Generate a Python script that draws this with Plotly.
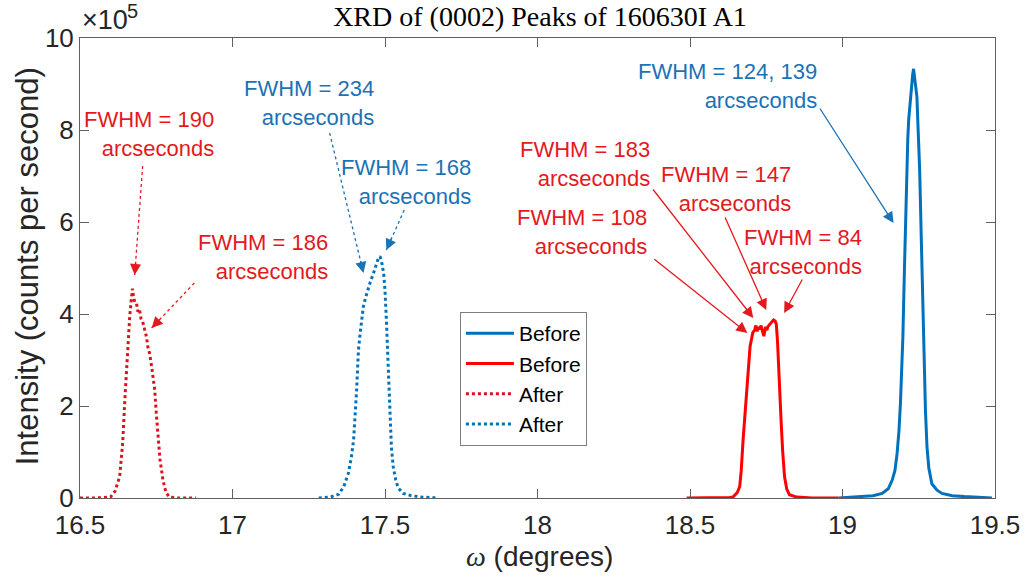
import plotly.graph_objects as go
import math

# ---------------- data (omega in degrees, intensity in counts per second) ----------------
after_red_x = [16.50, 16.55, 16.60, 16.615, 16.63, 16.64, 16.647, 16.655, 16.663, 16.668, 16.672,
               16.676, 16.680, 16.685, 16.690, 16.695, 16.700, 16.705, 16.712, 16.718, 16.722,
               16.728, 16.735, 16.740, 16.745, 16.750, 16.755, 16.762, 16.772, 16.782, 16.793,
               16.82, 16.85, 16.88]
after_red_y = [0, 0, 2000, 15000, 46000, 120000, 213000, 310000, 394000, 430000, 455000,
               435000, 425000, 424000, 405000, 410000, 390000, 385000, 365000, 350000, 330000,
               315000, 285000, 260000, 235000, 185000, 133000, 85000, 39000, 12000, 2000,
               0, 0, 0]

after_blue_x = [17.283, 17.32, 17.348, 17.365, 17.380, 17.390, 17.397, 17.403, 17.407, 17.410,
                17.413, 17.418, 17.422, 17.429, 17.436, 17.443, 17.452, 17.462, 17.470, 17.478,
                17.484, 17.491, 17.496, 17.500, 17.505, 17.508, 17.511, 17.516, 17.521, 17.527,
                17.535, 17.543, 17.56, 17.586, 17.62, 17.674]
after_blue_y = [0, 2000, 8000, 25000, 54000, 90000, 126000, 180000, 235000, 280000,
                322000, 355000, 380000, 416000, 435000, 452000, 470000, 488000, 505000, 521000,
                525000, 507000, 485000, 452000, 380000, 325000, 272000, 163000, 110000, 68000,
                40000, 22000, 10000, 5000, 2000, 0]

before_red_x = [18.489, 18.55, 18.60, 18.63, 18.641, 18.655, 18.663, 18.668, 18.674, 18.680,
                18.685, 18.690, 18.693, 18.697, 18.701, 18.706, 18.712, 18.716, 18.720, 18.724,
                18.728, 18.733, 18.738, 18.742, 18.744, 18.748, 18.752, 18.755, 18.762, 18.768,
                18.774, 18.779, 18.783, 18.787, 18.791, 18.795, 18.799, 18.804, 18.810, 18.817,
                18.826, 18.85, 18.90, 18.95, 18.987]
before_red_y = [0, 0, 0, 1000, 2000, 12000, 25000, 60000, 126000, 180000,
                235000, 280000, 307000, 330000, 343000, 360000, 365000, 375000, 362000, 372000,
                367000, 375000, 362000, 352000, 358000, 372000, 365000, 372000, 378000, 382000,
                387000, 385000, 378000, 340000, 271000, 210000, 163000, 100000, 46000, 20000,
                7000, 2000, 0, 0, 0]

before_blue_x = [18.987, 19.02, 19.054, 19.10, 19.130, 19.150, 19.163, 19.172, 19.179, 19.185,
                 19.190, 19.194, 19.198, 19.203, 19.207, 19.210, 19.214, 19.217, 19.222, 19.226,
                 19.230, 19.233, 19.237, 19.241, 19.244, 19.248, 19.253, 19.257, 19.261, 19.265,
                 19.268, 19.272, 19.277, 19.283, 19.293, 19.31, 19.326, 19.36, 19.40, 19.45, 19.49]
before_blue_y = [0, 1000, 2000, 5000, 10000, 20000, 39000, 60000, 97000, 145000,
                 206000, 270000, 351000, 496000, 610000, 713000, 780000, 822000, 865000, 894000,
                 920000, 933000, 910000, 890000, 872000, 800000, 713000, 600000, 496000, 380000,
                 278000, 190000, 111000, 65000, 31000, 17000, 10000, 5000, 3000, 1000, 0]

y_tick_vals = [0, 200000, 400000, 600000, 800000, 1000000]
y_tick_text = ["0", "2", "4", "6", "8", "10"]
x_tick_vals = [16.5, 17, 17.5, 18, 18.5, 19, 19.5]
x_tick_text = ["16.5", "17", "17.5", "18", "18.5", "19", "19.5"]

labels_fwhm = ["FWHM = 190", "FWHM = 186", "FWHM = 234", "FWHM = 168", "FWHM = 183",
               "FWHM = 108", "FWHM = 147", "FWHM = 84", "FWHM = 124, 139"]

# ---------------- styling ----------------
BLUE = "#0072BD"
RED = "#FF0000"
RED_DOT = "#E0101E"
RED_TXT = "#E3191E"
BLUE_TXT = "#1B72B5"
SANS = "Liberation Sans, Arial, sans-serif"
SERIF = "Liberation Serif, Times New Roman, serif"

W, H = 1032, 577
L, R, T, B = 80, 32, 38, 79
PW, PH = W - L - R, H - T - B
X0, X1 = 16.5, 19.5
Y0, Y1 = 0, 1000000


def px2x(px):
    return X0 + (px - L) * (X1 - X0) / PW


def py2y(py):
    return Y0 + (T + PH - py) * (Y1 - Y0) / PH


fig = go.Figure()
fig.add_trace(go.Scatter(x=before_blue_x, y=before_blue_y, mode="lines", name="Before",
                         line=dict(color=BLUE, width=3)))
fig.add_trace(go.Scatter(x=before_red_x, y=before_red_y, mode="lines", name="Before",
                         line=dict(color=RED, width=3)))
fig.add_trace(go.Scatter(x=after_red_x, y=after_red_y, mode="lines", name="After",
                         line=dict(color=RED_DOT, width=3, dash="dot")))
fig.add_trace(go.Scatter(x=after_blue_x, y=after_blue_y, mode="lines", name="After",
                         line=dict(color=BLUE, width=3, dash="dot")))

# text labels: (right edge px, first line centre py, colour)
text_pos = [(217, 120, RED_TXT), (331, 243, RED_TXT), (378, 89, BLUE_TXT), (475, 168, BLUE_TXT),
            (655, 150, RED_TXT), (652, 218, RED_TXT), (797, 175, RED_TXT), (868, 238, RED_TXT),
            (823, 72, BLUE_TXT)]
# arrows: tail px, head px, colour, dotted
arrows = [((143, 166), (135, 275), RED_TXT, True),
          ((195, 283), (152, 328), RED_TXT, True),
          ((331, 133), (365, 273), BLUE_TXT, True),
          ((406, 210), (388, 250), BLUE_TXT, True),
          ((655, 188), (757, 318), RED_TXT, False),
          ((656, 258), (751, 333), RED_TXT, False),
          ((728, 216), (770, 310), RED_TXT, False),
          ((807, 278), (788, 313), RED_TXT, False),
          ((823, 107), (898, 223), BLUE_TXT, False)]

annotations = []
shapes = []
for lab, (rx, cy, col) in zip(labels_fwhm, text_pos):
    annotations.append(dict(x=px2x(rx), y=py2y(cy + 14), xref="x", yref="y", xanchor="right",
                            yanchor="middle", align="right", showarrow=False,
                            text=lab + "<br>arcseconds", font=dict(family=SANS, size=22, color=col)))

for (tx, ty), (hx, hy), col, dotted in arrows:
    if dotted:
        shapes.append(dict(type="line", xref="x", yref="y", x0=px2x(tx), y0=py2y(ty),
                           x1=px2x(hx), y1=py2y(hy), line=dict(color=col, width=1.3, dash="dot")))
        d = math.hypot(tx - hx, ty - hy)
        annotations.append(dict(x=px2x(hx), y=py2y(hy), xref="x", yref="y", text="",
                                showarrow=True, ax=(tx - hx) * 14 / d, ay=(ty - hy) * 14 / d,
                                arrowhead=2, arrowsize=1.7, arrowwidth=1.3, arrowcolor=col,
                                standoff=0))
    else:
        annotations.append(dict(x=px2x(hx), y=py2y(hy), xref="x", yref="y", text="",
                                showarrow=True, axref="x", ayref="y", ax=px2x(tx), ay=py2y(ty),
                                arrowhead=2, arrowsize=1.7, arrowwidth=1.3, arrowcolor=col,
                                standoff=0))

# exponent label (x10^5) drawn as two pieces
annotations.append(dict(x=(80 - L) / PW, y=(T + PH - 20) / PH, xref="paper", yref="paper",
                        xanchor="left", yanchor="middle", showarrow=False, text="×10",
                        font=dict(family=SANS, size=27, color="#262626")))
annotations.append(dict(x=(125 - L) / PW, y=(T + PH - 11) / PH, xref="paper", yref="paper",
                        xanchor="left", yanchor="middle", showarrow=False, text="5",
                        font=dict(family=SANS, size=20, color="#262626")))
# axis titles
annotations.append(dict(x=-L / PW + 27 / PW, y=0.5 - (266 - (T + PH / 2)) / PH, xref="paper",
                        yref="paper", xanchor="center", yanchor="middle", textangle=-90,
                        showarrow=False, text="Intensity (counts per second)",
                        font=dict(family=SANS, size=31, color="#262626")))
annotations.append(dict(x=(542 - L) / PW, y=-(556 - T - PH) / PH, xref="paper", yref="paper",
                        xanchor="center", yanchor="middle", showarrow=False,
                        text="<span style='font-family:Liberation Serif'><i>ω</i></span> (degrees)",
                        font=dict(family=SANS, size=28, color="#262626")))

fig.update_layout(
    width=W, height=H,
    margin=dict(l=L, r=R, t=T, b=B, pad=0),
    paper_bgcolor="white", plot_bgcolor="white",
    title=dict(text="XRD of (0002) Peaks of 160630I A1", x=(540) / W, xanchor="center",
               y=1 - 16 / H, yanchor="middle",
               font=dict(family=SERIF, size=28, color="#000000")),
    showlegend=True,
    legend=dict(x=(462 - L) / PW, y=(T + PH - 312) / PH, xanchor="left", yanchor="top",
                bgcolor="white", bordercolor="#7F7F7F", borderwidth=1,
                font=dict(family=SANS, size=21, color="#000000"), itemwidth=48,
                traceorder="normal"),
    annotations=annotations,
    shapes=shapes,
    xaxis=dict(range=[X0, X1], tickvals=x_tick_vals, ticktext=x_tick_text, ticks="inside",
               ticklen=9, tickwidth=1, tickcolor="#606060", showline=True, linecolor="#606060",
               linewidth=1, mirror="ticks", showgrid=False, zeroline=False,
               ticklabelstandoff=4,
               tickfont=dict(family=SANS, size=26, color="#262626")),
    yaxis=dict(range=[Y0, Y1], tickvals=y_tick_vals, ticktext=y_tick_text, ticks="inside",
               ticklen=9, tickwidth=1, tickcolor="#606060", showline=True, linecolor="#606060",
               linewidth=1, mirror="ticks", showgrid=False, zeroline=False,
               tickfont=dict(family=SANS, size=26, color="#262626")),
)

fig.write_html("out.html")
